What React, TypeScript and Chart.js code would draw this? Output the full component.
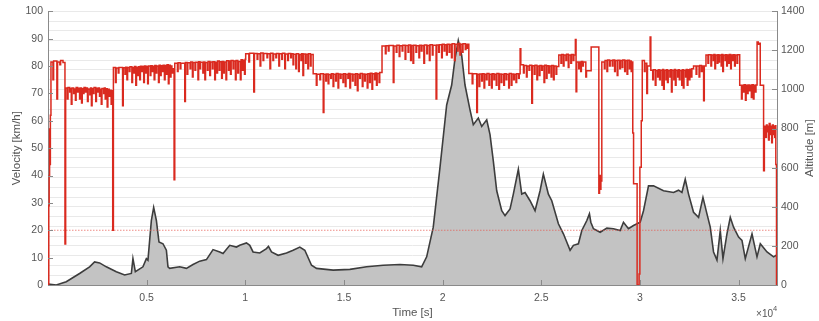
import React, { useEffect, useRef } from 'react';
import { Chart, registerables } from 'chart.js';

Chart.register(...registerables);

const TIME_MAX = 36950;
const VEL_MAX = 100;
const ALT_MAX = 1400;
const THRESHOLD_KMH = 20;

const X_TICKS = [5000, 10000, 15000, 20000, 25000, 30000, 35000];
const VEL_TICKS = [0, 10, 20, 30, 40, 50, 60, 70, 80, 90, 100];
const ALT_TICKS = [0, 200, 400, 600, 800, 1000, 1200, 1400];

// velocity samples (stepped: each value holds until the next time)
const velocityTime = [
  0, 40, 60, 80, 100, 120, 150, 250, 285, 450,
  485, 600, 640, 760, 860, 895,
  980, 1015, 1100, 1135, 1180, 1215, 1300, 1335, 1390, 1425,
  1500, 1535, 1600, 1635, 1700, 1735, 1790, 1825, 1900, 1935,
  2000, 2035, 2120, 2155, 2200, 2235, 2300, 2335, 2420, 2455,
  2520, 2555, 2610, 2645, 2700, 2735, 2820, 2855, 2900, 2935,
  3000, 3035, 3100, 3135, 3200, 3235, 3280, 3315,
  3420, 3455, 3560, 3595, 3780, 3815, 3900, 3935, 4000, 4035,
  4120, 4155, 4250, 4285, 4350, 4385, 4450, 4485, 4560, 4595,
  4650, 4685, 4760, 4795, 4850, 4885, 4960, 4995, 5050, 5085,
  5180, 5215, 5280, 5315, 5380, 5415, 5480, 5515, 5600, 5635,
  5700, 5735, 5800, 5835, 5900, 5935, 6000, 6035, 6100, 6135,
  6200, 6235, 6280, 6315, 6390, 6425,
  6560, 6595, 6700, 6735, 6930, 6965, 7050, 7085, 7200, 7235,
  7320, 7355, 7450, 7485, 7600, 7635, 7700, 7735, 7850, 7885,
  7950, 7985, 8080, 8115, 8200, 8235, 8330, 8365, 8450, 8485,
  8560, 8595, 8680, 8715, 8800, 8835, 8900, 8935, 9020, 9055,
  9150, 9185, 9250, 9285, 9380, 9415, 9500, 9535, 9620, 9655,
  9750, 9785, 9860, 9895, 9960, 9995, 10020,
  10180, 10215, 10430, 10465, 10600, 10635, 10750, 10785, 10900, 10935,
  11100, 11135, 11250, 11285, 11400, 11435, 11550, 11585, 11700, 11735,
  11850, 11885, 12000, 12035, 12150, 12185, 12300, 12335, 12420, 12455,
  12560, 12595, 12700, 12735, 12820, 12855, 12920, 12955, 13050, 13085,
  13170, 13205, 13300, 13335, 13440,
  13600, 13635, 13780, 13815, 13950, 13985, 14080, 14115, 14200, 14235,
  14330, 14365, 14450, 14485, 14580, 14615, 14700, 14735, 14820, 14855,
  14950, 14985, 15070, 15105, 15200, 15235, 15300, 15335, 15430, 15465,
  15560, 15595, 15680, 15715, 15800, 15835, 15930, 15965, 16050, 16085,
  16180, 16215, 16300, 16335, 16420, 16455, 16550, 16585, 16650, 16685,
  16780, 16815, 16930,
  17100, 17135, 17250, 17285, 17500, 17535, 17650, 17685, 17800, 17835,
  17950, 17985, 18100, 18135, 18250, 18285, 18380, 18415, 18500, 18535,
  18650, 18685, 18800, 18835, 18920, 18955, 19050, 19085, 19200, 19235,
  19330, 19365, 19480, 19515, 19670, 19705, 19800, 19835, 19950, 19985,
  20080, 20115, 20200, 20235, 20330, 20365, 20450, 20485, 20600, 20635,
  20750, 20785, 20880, 20915, 21000, 21035, 21150, 21185, 21260, 21295,
  21330,
  21500, 21535, 21730, 21765, 21850, 21885, 21980, 22015, 22100, 22135,
  22220, 22255, 22350, 22385, 22480, 22515, 22600, 22635, 22720, 22755,
  22850, 22885, 22970, 23005, 23100, 23135, 23220, 23255, 23350, 23385,
  23480, 23515, 23600, 23635, 23720, 23755, 23850, 23885, 23930, 23965,
  24100, 24135, 24250, 24285, 24380, 24415, 24520, 24555, 24650, 24685,
  24780, 24815, 24900, 24935, 25020, 25055, 25140, 25175, 25260, 25295,
  25380, 25415, 25500, 25535, 25620, 25655, 25750, 25785, 25890,
  26000, 26035, 26120, 26155, 26250, 26285, 26370, 26405, 26500, 26535,
  26620, 26655, 26730, 26765, 26800, 26900, 26935, 27000, 27035, 27100, 27135,
  27260, 27295, 27530, 27920, 27955, 27990, 28025, 28070,
  28200, 28235, 28330, 28365, 28460, 28495, 28600, 28635, 28720, 28755,
  28850, 28885, 28980, 29015, 29100, 29135, 29230, 29265, 29350, 29385,
  29470, 29505, 29560, 29595, 29640, 29680, 29860, 29960, 30000, 30070, 30120,
  30230, 30265, 30350, 30385, 30520, 30555, 30650, 30685, 30780, 30815,
  30900, 30935, 31000, 31035, 31120, 31155, 31200, 31235, 31320, 31355,
  31400, 31435, 31520, 31555, 31600, 31635, 31720, 31755, 31800, 31835,
  31920, 31955, 32000, 32035, 32120, 32155, 32200, 32235, 32320, 32355,
  32400, 32435, 32500, 32535, 32600, 32635, 32720, 32850, 32885, 33000, 33035,
  33120, 33155, 33230, 33265, 33350,
  33450, 33485, 33600, 33635, 33720, 33755, 33800, 33835, 33920, 33955,
  34000, 34035, 34120, 34155, 34200, 34235, 34320, 34355, 34400, 34435,
  34500, 34535, 34600, 34635, 34700, 34735, 34800, 34835, 34920, 34955,
  35060,
  35150, 35185, 35250, 35285, 35350, 35385, 35450, 35485, 35550, 35585,
  35650, 35685, 35750, 35785, 35850, 35885, 35940, 36000, 36070, 36100,
  36270, 36310, 36380, 36415, 36450, 36485, 36520, 36555, 36600, 36635,
  36680, 36715, 36760, 36795, 36830, 36865, 36890, 36925,
];

const velocityKmh = [
  0, 29, 40, 57, 44, 62, 81.5, 75, 81.8, 68,
  81.5, 80.5, 82, 81.3, 15, 72,
  68, 72.2, 70.5, 71.8, 66, 72, 70, 71.6, 67.5, 72.2,
  70.5, 71.9, 68, 72, 66.5, 71.7, 70, 72.2, 70.5, 72,
  67, 71.6, 69.5, 72, 65.5, 71.8, 70, 72.2, 67, 71.9,
  70.5, 72, 69, 71.5, 66, 71.8, 70, 72, 68, 71.7,
  65, 71.5, 69, 71.2, 66, 71, 20, 79.5,
  74, 79.3, 77.5, 79.5, 65.5, 79.4, 77, 79.6, 75, 79.5,
  78, 79.7, 74, 79.5, 77.5, 79.8, 73, 79.6, 76.5, 79.7,
  75, 79.9, 78, 79.8, 74, 80, 77.5, 79.8, 73.5, 80,
  76.5, 80.1, 78, 79.9, 75, 80.2, 77.5, 80, 74, 80.3,
  76.5, 80.1, 78, 80.3, 75, 80.2, 77, 80.5, 73.5, 80.3,
  76, 80, 77.5, 79, 38.5, 81,
  78, 81.2, 79, 81, 67, 81.3, 77, 81.2, 79, 81.5,
  76, 81.3, 78.5, 81.4, 75, 81.6, 79, 81.4, 77.5, 81.5,
  75, 81.3, 78.5, 81.7, 76.5, 81.5, 79, 81.6, 75, 81.4,
  77.5, 81.8, 78.5, 81.6, 75.5, 81.7, 77.5, 81.5, 75, 81.9,
  78.5, 81.8, 77, 82, 79, 81.8, 75, 82, 77.5, 81.7,
  75, 82.3, 78.5, 82.1, 77, 82.5, 84.5,
  81.5, 84.7, 70.5, 84.6, 82.5, 84.5, 80, 84.8, 82, 84.6,
  83, 84.5, 79, 84.7, 82, 84.4, 83, 84.6, 80, 84.5,
  82.5, 84.7, 79, 84.4, 82, 84.6, 83, 84.5, 80.5, 84.3,
  79, 84.5, 78, 84.2, 82, 84.5, 76.5, 84.4, 81, 84.3,
  79, 84.5, 80, 84.2, 77.2,
  73, 77, 75, 77.2, 63, 77, 74.5, 77.1, 73.5, 76.9,
  75.5, 77.2, 72.5, 77, 74.5, 77.3, 72, 77.1, 75.5, 77,
  74, 77.2, 72.5, 77, 75.5, 77.3, 72, 77.1, 74.5, 77,
  73, 77.2, 71, 77, 75.5, 77.3, 72.5, 77.1, 74.5, 77,
  72, 77.2, 74, 77.4, 71.5, 77.2, 75, 77.5, 73, 77.3,
  74, 77.6, 87.3,
  84.5, 87.4, 85.5, 87.5, 74, 87.3, 85, 87.6, 83.5, 87.4,
  85.5, 87.6, 82.5, 87.5, 85, 87.7, 82, 87.5, 81, 87.6,
  85, 87.4, 83, 87.6, 85.5, 87.5, 81, 87.7, 84.5, 87.5,
  82, 87.8, 84, 87.6, 68, 87.7, 85, 87.8, 83, 88,
  85.5, 87.8, 84, 88, 85, 87.9, 83, 88.1, 82, 88,
  85.5, 88.2, 84, 88, 85, 88.1, 86, 88, 86.5, 88,
  77.3,
  73.5, 77.2, 63, 77, 72.5, 77.1, 74.5, 77.2, 72, 77,
  75, 77.3, 73, 77, 72, 77.2, 75, 77, 73, 77.3,
  71.5, 77.1, 74, 77, 73, 77.2, 75, 77, 72, 77.3,
  73, 77.1, 75, 77, 74, 77.2, 75.5, 77.2, 86.3, 80.5,
  77.5, 80.2, 76, 80, 78.5, 80.3, 66.4, 80.1, 77, 80.3,
  75, 80, 76.5, 80.2, 78.5, 80, 74, 80.3, 75.5, 80.1,
  77.5, 80, 76, 80.2, 75, 80, 77, 79.8, 84,
  81, 84.2, 80, 84, 82, 84.3, 79.5, 84, 81, 84.2,
  82, 84, 89.7, 70.6, 81.5, 79, 81.5, 78, 81.7, 80, 81.5,
  76, 78.3, 87, 33.5, 40, 35, 38, 81.5,
  79, 82, 78, 82.2, 80, 82, 80, 82.2, 78, 82,
  76.5, 82.1, 79, 82, 79.5, 82.2, 78, 82, 77, 82.1,
  79, 81.8, 78, 81.5, 55.5, 37, 0, 4, 43, 60, 82,
  78, 81, 70, 80, 90.6, 78.5, 75, 78.6, 73, 78.4,
  76, 78.6, 75, 78.5, 73, 78.7, 71.5, 78.5, 75, 78.6,
  74, 78.4, 76, 78.6, 70.5, 78.5, 75, 78.7, 73, 78.5,
  76, 78.6, 75, 78.4, 73, 78.6, 72, 78.5, 76, 78.7,
  73, 78.6, 75, 78.8, 76, 79, 80, 77, 80, 76, 80.2,
  78, 80, 67.3, 80, 84,
  81, 84.1, 80, 84, 82, 84.2, 79, 84, 81, 84.1,
  81.5, 84, 80, 84.2, 78, 84, 82, 84.1, 80, 84,
  81, 84.2, 79, 84, 82, 84.1, 80, 84, 81, 84.1,
  73,
  68, 73, 70.5, 73.2, 67.5, 73, 70, 73.1, 71, 73,
  68.5, 73.2, 68, 73, 70.5, 73.1, 88.8, 88, 88.3, 73,
  41.7, 58, 54, 58.5, 56, 58, 53, 59, 55, 58,
  52, 58.5, 55, 58, 54, 58.2, 44, 0,
];

const altitudeTime = [
  0, 419, 926, 1601, 2108, 2362, 2616, 2956, 3463, 3884,
  4224, 4305, 4427, 4813, 4985, 5066, 5239, 5356, 5493, 5625,
  5828, 6000, 6081, 6167, 6675, 7015, 7350, 7690, 8030, 8365,
  8705, 8872, 9212, 9552, 9719, 10059, 10227, 10394, 10734, 11074,
  11175, 11328, 11663, 12089, 12424, 12764, 13017, 13357, 13611, 14453,
  15301, 16148, 16990, 17838, 18513, 18939, 19193, 19527, 19867, 20207,
  20461, 20629, 20796, 20968, 21136, 21390, 21557, 21811, 21983, 22237,
  22404, 22572, 22744, 22998, 23165, 23419, 23586, 23840, 24012, 24180,
  24433, 24687, 24941, 25108, 25362, 25534, 25870, 26124, 26463, 26631,
  26884, 27057, 27311, 27443, 27514, 27646, 27986, 28326, 28661, 29001,
  29168, 29422, 29676, 30016, 30183, 30437, 30691, 31198, 31706, 31959,
  32132, 32299, 32466, 32720, 32974, 33197, 33400, 33567, 33734, 33907,
  34074, 34211, 34414, 34582, 34749, 35003, 35175, 35342, 35683, 35936,
  36104, 36443, 36778, 36915,
];

const altitudeM = [
  5, 0, 17, 59, 93, 118, 113, 93, 68, 51,
  59, 135, 68, 93, 135, 127, 330, 397, 330, 220,
  211, 178, 93, 85, 93, 85, 105, 122, 130, 181,
  169, 161, 203, 194, 203, 215, 203, 169, 164, 186,
  198, 169, 152, 164, 178, 194, 178, 101, 85, 76,
  80, 93, 101, 105, 101, 93, 144, 296, 600, 921,
  1023, 1158, 1251, 1175, 1023, 896, 820, 854, 811, 845,
  769, 634, 482, 380, 355, 389, 465, 592, 465, 473,
  431, 380, 482, 567, 465, 431, 313, 262, 178, 203,
  211, 279, 330, 364, 321, 288, 270, 291, 288, 279,
  321, 288, 304, 321, 380, 507, 507, 482, 473, 485,
  473, 541, 465, 372, 346, 448, 364, 296, 169, 127,
  279, 135, 262, 346, 296, 245, 228, 135, 262, 144,
  211, 169, 144, 152,
];

const AXIS = '#8a8a8a';
const TEXT = '#555555';
const FONT = '"Liberation Sans", Arial, sans-serif';

const overlay = {
  id: 'overlay',
  afterDatasetsDraw(chart: any) {
    const { ctx, chartArea, scales } = chart;
    const { left, right, bottom } = chartArea;
    const x = scales.x;
    const y = scales.y;
    const y2 = scales.y2;
    ctx.save();
    ctx.strokeStyle = AXIS;
    ctx.lineWidth = 1;
    ctx.beginPath();
    for (const v of X_TICKS) {
      const px = Math.round(x.getPixelForValue(v)) + 0.5;
      ctx.moveTo(px, bottom);
      ctx.lineTo(px, bottom - 5);
    }
    for (const v of VEL_TICKS) {
      const py = Math.round(y.getPixelForValue(v)) + 0.5;
      ctx.moveTo(left, py);
      ctx.lineTo(left + 5, py);
    }
    for (const v of ALT_TICKS) {
      const py = Math.round(y2.getPixelForValue(v)) + 0.5;
      ctx.moveTo(right, py);
      ctx.lineTo(right - 5, py);
    }
    ctx.stroke();
    ctx.restore();
  },
  afterDraw(chart: any) {
    const { ctx, chartArea } = chart;
    const { left, right, top, bottom } = chartArea;
    const midY = (top + bottom) / 2;
    ctx.save();
    ctx.fillStyle = TEXT;
    ctx.font = `11.5px ${FONT}`;
    ctx.textAlign = 'center';
    ctx.textBaseline = 'alphabetic';
    ctx.fillText('Time [s]', (left + right) / 2, 316);

    ctx.save();
    ctx.translate(17, midY);
    ctx.rotate(-Math.PI / 2);
    ctx.textBaseline = 'middle';
    ctx.fillText('Velocity [km/h]', 0, 0);
    ctx.restore();

    ctx.save();
    ctx.translate(810, midY);
    ctx.rotate(-Math.PI / 2);
    ctx.textBaseline = 'middle';
    ctx.fillText('Altitude [m]', 0, 0);
    ctx.restore();

    ctx.textAlign = 'right';
    ctx.font = `10px ${FONT}`;
    ctx.fillText('\u00d710', right - 4, 317);
    ctx.textAlign = 'left';
    ctx.font = `7.5px ${FONT}`;
    ctx.fillText('4', right - 4, 311);
    ctx.restore();
  },
};

export default function App() {
  const ref = useRef<HTMLCanvasElement | null>(null);

  useEffect(() => {
    document.body.style.margin = '0';
    const canvas = ref.current;
    if (!canvas) return;
    Chart.defaults.font.family = FONT;

    const velocityPoints = velocityTime.map((t, i) => ({ x: t, y: velocityKmh[i] }));
    const altitudePoints = altitudeTime.map((t, i) => ({ x: t, y: altitudeM[i] }));
    const thresholdPoints = [
      { x: 0, y: THRESHOLD_KMH },
      { x: TIME_MAX, y: THRESHOLD_KMH },
    ];

    const chart = new Chart(canvas, {
      type: 'line',
      data: {
        datasets: [
          {
            label: 'Velocity',
            data: velocityPoints,
            yAxisID: 'y',
            borderColor: '#da2a1f',
            borderWidth: 1.5,
            pointRadius: 0,
            fill: false,
            stepped: 'before',
            borderJoinStyle: 'miter',
            order: 1,
          },
          {
            label: 'Threshold',
            data: thresholdPoints,
            yAxisID: 'y',
            borderColor: 'rgba(230, 90, 80, 0.7)',
            borderWidth: 1,
            borderDash: [1.5, 1.5],
            pointRadius: 0,
            fill: false,
            order: 2,
          },
          {
            label: 'Altitude',
            data: altitudePoints,
            yAxisID: 'y2',
            borderColor: '#3d3d3d',
            backgroundColor: '#c3c3c3',
            borderWidth: 1.6,
            pointRadius: 0,
            fill: 'origin',
            tension: 0,
            order: 3,
          },
        ],
      },
      options: {
        responsive: false,
        animation: false,
        devicePixelRatio: 1,
        layout: { padding: { top: 9, left: 0, right: 0, bottom: 0 } },
        plugins: {
          legend: { display: false },
          tooltip: { enabled: false },
        },
        scales: {
          x: {
            type: 'linear',
            min: 0,
            max: TIME_MAX,
            grid: { display: false, drawTicks: false },
            border: { display: true, color: AXIS, width: 1 },
            afterBuildTicks: (s: any) => {
              s.ticks = X_TICKS.map((v) => ({ value: v }));
            },
            afterFit: (s: any) => {
              s.height = 36;
            },
            ticks: {
              padding: 7,
              color: TEXT,
              font: { size: 10.5 },
              maxRotation: 0,
              autoSkip: false,
              callback: (v: any) => String(Number(v) / 10000),
            },
          },
          y: {
            type: 'linear',
            position: 'left',
            min: 0,
            max: VEL_MAX,
            grid: { display: false, drawTicks: false },
            border: { display: true, color: AXIS, width: 1 },
            afterBuildTicks: (s: any) => {
              s.ticks = VEL_TICKS.map((v) => ({ value: v }));
            },
            afterFit: (s: any) => {
              s.width = 48;
            },
            ticks: {
              padding: 5,
              color: TEXT,
              font: { size: 10.5 },
              autoSkip: false,
            },
          },
          y2: {
            type: 'linear',
            position: 'right',
            min: 0,
            max: ALT_MAX,
            grid: { display: true, drawTicks: false, color: '#e9e9e9', lineWidth: 1 },
            border: { display: true, color: AXIS, width: 1 },
            afterFit: (s: any) => {
              s.width = 42;
            },
            ticks: {
              stepSize: 50,
              padding: 4,
              color: TEXT,
              font: { size: 10.5 },
              autoSkip: false,
              callback: (v: any) => (Number(v) % 200 === 0 ? String(v) : ''),
            },
          },
        },
      },
      plugins: [overlay],
    } as any);

    return () => chart.destroy();
  }, []);

  return (
    <div style={{ position: 'absolute', left: 0, top: 0, width: 819, height: 321, background: '#ffffff' }}>
      <canvas ref={ref} width={819} height={321} style={{ display: 'block' }} />
    </div>
  );
}
